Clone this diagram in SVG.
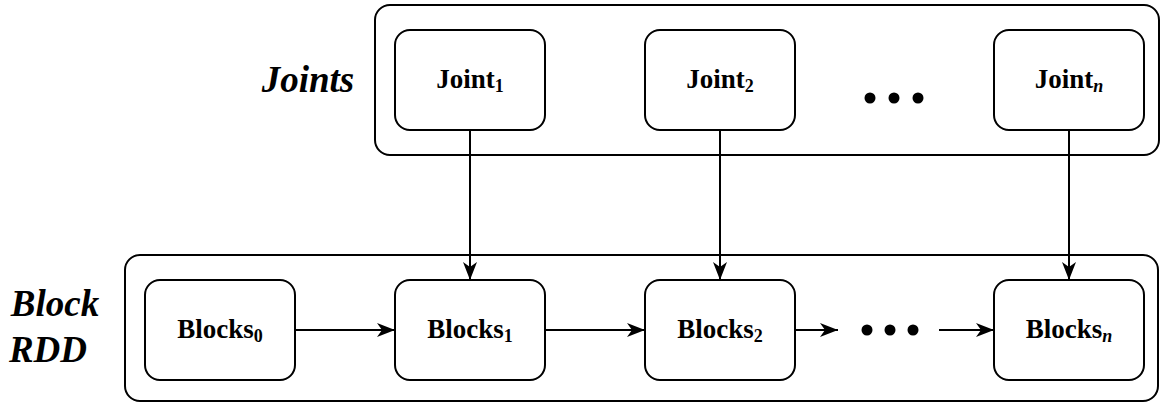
<svg xmlns="http://www.w3.org/2000/svg" width="1161" height="404" viewBox="0 0 1161 404">
  <style>
    .box { fill: #ffffff; stroke: #000000; stroke-width: 2; }
    .lbl { font-family: "Liberation Serif", "Times New Roman", Times, serif; font-weight: bold; font-size: 27px; text-anchor: middle; fill: #000000; }
    .sub { font-size: 18px; }
    .title { font-family: "Liberation Serif", "Times New Roman", Times, serif; font-weight: bold; font-style: italic; font-size: 37px; text-anchor: middle; fill: #000000; }
    .edge { fill: none; stroke: #000000; stroke-width: 2; }
    .dot { fill: #000000; }
  </style>
  <defs>
    <marker id="arrow" markerUnits="userSpaceOnUse" markerWidth="20" markerHeight="16" refX="18" refY="7" orient="auto">
      <path d="M0,0 L18,7 L0,14 L5,7 Z" fill="#000000"/>
    </marker>
  </defs>

  <!-- section labels -->
  <text class="title" x="308" y="92">Joints</text>
  <text class="title" x="55" y="316">Block</text>
  <text class="title" x="48" y="362">RDD</text>

  <!-- containers -->
  <g id="joints-container">
    <rect class="box" x="375" y="5" width="784" height="150" rx="15" ry="15"/>
  </g>
  <g id="blockrdd-container">
    <rect class="box" x="125" y="255" width="1033" height="146" rx="15" ry="15"/>
  </g>

  <!-- joint nodes -->
  <g id="joint1">
    <rect class="box" x="395" y="30" width="150" height="100" rx="15" ry="15"/>
    <text class="lbl" x="470" y="88">Joint<tspan class="sub" dy="4">1</tspan></text>
  </g>
  <g id="joint2">
    <rect class="box" x="645" y="30" width="150" height="100" rx="15" ry="15"/>
    <text class="lbl" x="720" y="88">Joint<tspan class="sub" dy="4">2</tspan></text>
  </g>
  <g id="joint-dots">
    <circle class="dot" cx="870" cy="98" r="5.5"/>
    <circle class="dot" cx="894" cy="98" r="5.5"/>
    <circle class="dot" cx="918" cy="98" r="5.5"/>
  </g>
  <g id="jointn">
    <rect class="box" x="994" y="30" width="150" height="100" rx="15" ry="15"/>
    <text class="lbl" x="1069" y="88">Joint<tspan class="sub" dy="4" font-style="italic">n</tspan></text>
  </g>

  <!-- block nodes -->
  <g id="blocks0">
    <rect class="box" x="145" y="280" width="150" height="100" rx="15" ry="15"/>
    <text class="lbl" x="220" y="338">Blocks<tspan class="sub" dy="4">0</tspan></text>
  </g>
  <g id="blocks1">
    <rect class="box" x="395" y="280" width="150" height="100" rx="15" ry="15"/>
    <text class="lbl" x="470" y="338">Blocks<tspan class="sub" dy="4">1</tspan></text>
  </g>
  <g id="blocks2">
    <rect class="box" x="645" y="280" width="150" height="100" rx="15" ry="15"/>
    <text class="lbl" x="720" y="338">Blocks<tspan class="sub" dy="4">2</tspan></text>
  </g>
  <g id="block-dots">
    <circle class="dot" cx="867" cy="330" r="5.5"/>
    <circle class="dot" cx="890" cy="330" r="5.5"/>
    <circle class="dot" cx="913" cy="330" r="5.5"/>
  </g>
  <g id="blocksn">
    <rect class="box" x="994" y="280" width="150" height="100" rx="15" ry="15"/>
    <text class="lbl" x="1069" y="338">Blocks<tspan class="sub" dy="4" font-style="italic">n</tspan></text>
  </g>

  <!-- connectors -->
  <g id="connectors">
    <line class="edge" x1="470" y1="130" x2="470" y2="280" marker-end="url(#arrow)"/>
    <line class="edge" x1="720" y1="130" x2="720" y2="280" marker-end="url(#arrow)"/>
    <line class="edge" x1="1069" y1="130" x2="1069" y2="280" marker-end="url(#arrow)"/>
    <line class="edge" x1="295" y1="330" x2="395" y2="330" marker-end="url(#arrow)"/>
    <line class="edge" x1="545" y1="330" x2="645" y2="330" marker-end="url(#arrow)"/>
    <line class="edge" x1="795" y1="330" x2="838" y2="330" marker-end="url(#arrow)"/>
    <line class="edge" x1="939" y1="330" x2="994" y2="330" marker-end="url(#arrow)"/>
  </g>
</svg>
